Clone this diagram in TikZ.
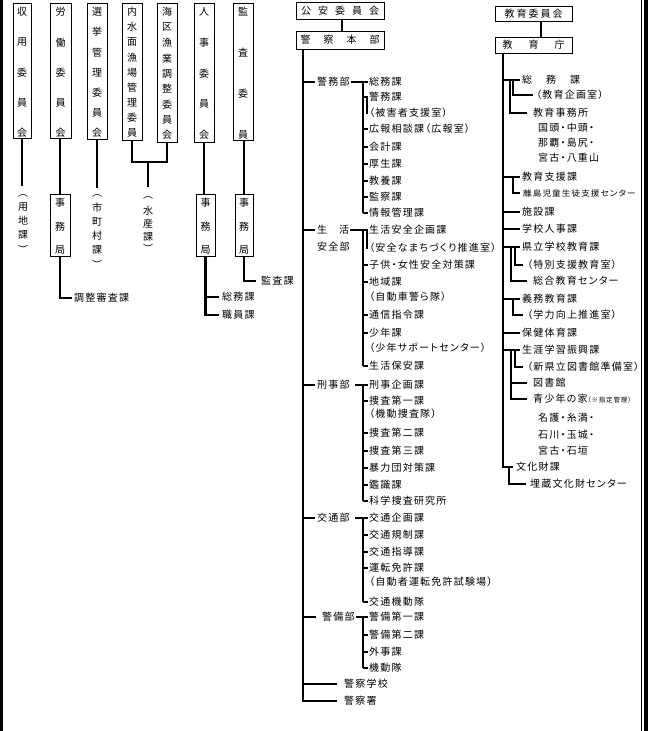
\documentclass[tikz,border=0pt]{standalone}
\usepackage{graphicx}
\usepackage{fontspec}
\newfontfamily\jp{Noto Sans CJK JP}[RawFeature=+palt,LetterSpace=12]
\newfontfamily\jpplain{Noto Sans CJK JP}
\newcommand{\itm}[4]{\node[txt] (#1) at (#2,#3) {#4};}
\begin{document}
\begin{tikzpicture}[x=1pt,y=-1pt,
  box/.style={draw=black, line width=0.9pt, inner sep=0pt},
  bt/.style={font=\jp\fontsize{10}{12}\selectfont},
  txt/.style={inner sep=0pt, anchor=west, font=\jp\fontsize{10}{12}\selectfont},
  vch/.style={inner sep=0pt, font=\jpplain\fontsize{10}{12}\selectfont},
  ln/.style={line width=1.1pt},
  lnt/.style={line width=2pt},
  trunk/.style={line width=2.4pt},
]
\useasboundingbox (0,0) rectangle (651,731);
% frame
\fill (0,0) rectangle (2.5,731);
\draw[line width=1.4pt] (641.5,0) -- (641.5,731);
\fill (644,0) rectangle (648.3,731);

% ================= left committees =================
\node[box, minimum width=18pt, minimum height=135pt] (shuyo) at (22,70.5) {};
\foreach \c [count=\i from 0] in {収,用,委,員,会}
  \node[vch] (shuyo-c\i) at (22,{12+\i*30.25}) {\c};
\coordinate (shuyoend) at (22,186);
\draw[ln] (shuyo.south) -- (shuyoend);
\foreach \c/\yy [count=\i] in {︵/196,用/207,地/221,課/235,︶/249}
  \node[vch] (yochi-\i) at (23,\yy) {\c};

\node[box, minimum width=21pt, minimum height=135pt] (rodo) at (60.5,70.5) {};
\foreach \c [count=\i from 0] in {労,働,委,員,会}
  \node[vch] (rodo-c\i) at (60.5,{12+\i*30.25}) {\c};
\node[box, minimum width=20pt, minimum height=62pt] (rodojimu) at (60,225) {};
\foreach \c [count=\i from 0] in {事,務,局}
  \node[vch] (rodojimu-c\i) at (60,{203+\i*23.5}) {\c};
\draw[ln] (rodo.south -| rodojimu.north) -- (rodojimu.north);
\itm{chosei}{74}{298}{調整審査課}
\draw[ln] (rodojimu.south) |- ([xshift=-2pt]chosei.west);

\node[box, minimum width=20pt, minimum height=136pt] (senkyo) at (97,71) {};
\foreach \c [count=\i from 0] in {選,挙,管,理,委,員,会}
  \node[vch] (senkyo-c\i) at (97,{12+\i*20.2}) {\c};
\coordinate (senkyoend) at (97,188);
\draw[ln] (senkyo.south) -- (senkyoend);
\foreach \c/\yy [count=\i] in {︵/196,市/208,町/222,村/236,課/250,︶/264}
  \node[vch] (shicho-\i) at (97,\yy) {\c};

\node[box, minimum width=20pt, minimum height=137pt] (naisui) at (132,71.5) {};
\foreach \c [count=\i from 0] in {内,水,面,漁,場,管,理,委,員}
  \node[vch] (naisui-c\i) at (132,{12+\i*15.1}) {\c};
\node[box, minimum width=20pt, minimum height=139pt] (kaiku) at (167,72.5) {};
\foreach \c [count=\i from 0] in {海,区,漁,業,調,整,委,員,会}
  \node[vch] (kaiku-c\i) at (167,{12+\i*15.4}) {\c};
\coordinate (mrg) at (148,162);
\coordinate (mrgend) at (148,187);
\draw[ln] (naisui.south) |- (mrg) -| (kaiku.south);
\draw[trunk] (mrg) -- (mrgend);
\foreach \c/\yy [count=\i] in {︵/198,水/211,産/224,課/237,︶/248}
  \node[vch] (suisan-\i) at (148,\yy) {\c};

\node[box, minimum width=20pt, minimum height=139pt] (jinji) at (204,72.5) {};
\foreach \c [count=\i from 0] in {人,事,委,員,会}
  \node[vch] (jinji-c\i) at (204,{12+\i*30.75}) {\c};
\node[box, minimum width=19pt, minimum height=62pt] (jinjijimu) at (205.5,225) {};
\foreach \c [count=\i from 0] in {事,務,局}
  \node[vch] (jinjijimu-c\i) at (205.5,{203+\i*23.5}) {\c};
\draw[trunk] (jinji.south) -- (jinji.south |- jinjijimu.north);
\itm{jsomu}{222}{297}{総務課}
\itm{shokuin}{222}{315}{職員課}
\draw[trunk] (jinjijimu.south) |- ([xshift=-3pt]shokuin.west);
\draw[ln] (jinjijimu.south |- jsomu.west) -- ([xshift=-3pt]jsomu.west);

\node[box, minimum width=20pt, minimum height=137pt] (kansa) at (243,71.5) {};
\foreach \c [count=\i from 0] in {監,査,委,員}
  \node[vch] (kansa-c\i) at (243,{12+\i*41}) {\c};
\node[box, minimum width=18pt, minimum height=62pt] (kansajimu) at (244,225) {};
\foreach \c [count=\i from 0] in {事,務,局}
  \node[vch] (kansajimu-c\i) at (244,{203+\i*23.5}) {\c};
\draw[ln] (kansajimu.north |- kansa.south) -- (kansajimu.north);
\itm{kansaka}{261}{281}{監査課}
\draw[ln] (kansajimu.south) |- ([xshift=-5pt]kansaka.west);

% ================= police =================
\node[box, bt, minimum width=88pt, minimum height=17pt] (koan) at (340,10.5) {公\kern7pt安\kern7pt委\kern7pt員\kern7pt会};
\node[box, bt, minimum width=88pt, minimum height=18pt] (keisatsu) at (340,40) {警\kern13pt察\kern13pt本\kern13pt部};
\coordinate (kx) at (342,0);
\draw[ln] (koan.south -| kx) -- (keisatsu.north -| kx);

\itm{keimu}{317}{82}{警務部}
\itm{k1}{369}{82}{総務課}
\itm{k2}{369}{97}{警務課}
\itm{k3}{369}{113}{（被害者支援室）}
\itm{k4}{369}{129}{広報相談課（広報室）}
\itm{k5}{369}{147}{会計課}
\itm{k6}{369}{164}{厚生課}
\itm{k7}{369}{181}{教養課}
\itm{k8}{369}{197}{監察課}
\itm{k9}{369}{213}{情報管理課}

\itm{seikatsuA}{317}{230}{生\kern12pt活}
\itm{seikatsuB}{317}{247}{安全部}
\itm{s1}{369}{230}{生活安全企画課}
\itm{s2}{369}{248}{（安全なまちづくり推進室）}
\itm{s3}{369}{265}{子供・女性安全対策課}
\itm{s4}{369}{282}{地域課}
\itm{s5}{369}{297}{（自動車警ら隊）}
\itm{s6}{369}{315}{通信指令課}
\itm{s7}{369}{333}{少年課}
\itm{s8}{369}{348}{（少年サポートセンター）}
\itm{s9}{369}{366}{生活保安課}

\itm{keiji}{317}{385}{刑事部}
\itm{j1}{369}{385}{刑事企画課}
\itm{j2}{369}{401}{捜査第一課}
\itm{j3}{369}{414}{（機動捜査隊）}
\itm{j4}{369}{433}{捜査第二課}
\itm{j5}{369}{451}{捜査第三課}
\itm{j6}{369}{468}{暴力団対策課}
\itm{j7}{369}{485}{鑑識課}
\itm{j8}{369}{501}{科学捜査研究所}

\itm{kotsu}{317}{518}{交通部}
\itm{t1}{369}{518}{交通企画課}
\itm{t2}{369}{535}{交通規制課}
\itm{t3}{369}{552}{交通指導課}
\itm{t4}{369}{568}{運転免許課}
\itm{t5}{369}{582}{（自動者運転免許試験場）}
\itm{t6}{369}{602}{交通機動隊}

\itm{keibi}{322}{617}{警備部}
\itm{b1}{369}{617}{警備第一課}
\itm{b2}{369}{635}{警備第二課}
\itm{b3}{369}{652}{外事課}
\itm{b4}{369}{668}{機動隊}

\itm{gakko}{344}{684}{警察学校}
\itm{sho}{344}{701}{警察署}

\coordinate (pt) at (303,0);
\coordinate (sv) at (363,0);
\coordinate (sb) at (367,0);
\draw[trunk] (keisatsu.south -| pt) |- ([xshift=-7pt]sho.west);
\draw[ln] (pt |- gakko.west) -- ([xshift=-7pt]gakko.west);
\foreach \d in {keimu,seikatsuA,keiji,kotsu}
  \draw[ln] (pt |- \d.west) -- ([xshift=-2pt]\d.west);
\draw[ln] (pt |- keibi.west) -- ([xshift=-6pt]keibi.west);
% dept to sub-trunk
\draw[ln] ([xshift=1pt]keimu.east) -- (sv |- keimu.east);
\draw[ln] (seikatsuB.east |- seikatsuA.west) -- (sv |- seikatsuA.west);
\draw[ln] ([xshift=5pt]keiji.east) -- (sv |- keiji.east);
\draw[ln] ([xshift=5pt]kotsu.east) -- (sv |- kotsu.east);
\draw[ln] ([xshift=1pt]keibi.east) -- (sv |- keibi.east);
% sub-trunks
\draw[lnt] (sv |- k1.west) -- (sv |- k9.west);
\draw[lnt] (sv |- s1.west) -- (sv |- s9.west);
\draw[lnt] (sv |- j1.west) -- (sv |- j8.west);
\draw[lnt] (sv |- t1.west) -- (sv |- t6.west);
\draw[lnt] (sv |- b1.west) -- (sv |- b4.west);
% ticks
\foreach \n in {k1,k4,k5,k7,s1,s4,s6,s7,s9,j1,j6,j7,t1,t2,t6,b1,b2}
  \draw[ln] (sv |- \n.west) -- ([xshift=-1pt]\n.west);
\foreach \n in {k2,k6,k8,k9,s3,j2,j4,j5,j8,t3,t4,b3,b4}
  \draw[lnt] (sv |- \n.west) -- ([xshift=-1pt]\n.west);
% sub brackets
\draw[ln] (sb |- k2.west) |- ([xshift=-1pt]k3.west);
\draw[lnt] (sb |- s1.west) |- ([xshift=-1pt]s2.west);

% ================= education =================
\node[box, bt, minimum width=77pt, minimum height=15pt] (kyoi) at (533.5,13.5) {教\kern2pt育\kern2pt委\kern2pt員\kern2pt会};
\node[box, bt, minimum width=77pt, minimum height=16pt] (kyocho) at (533.5,45) {教\kern16pt育\kern16pt庁};
\coordinate (ex) at (541,0);
\draw[ln] (kyoi.south -| ex) -- (kyocho.north -| ex);

\itm{e1}{522}{80}{総\kern14pt務\kern14pt課}
\itm{e2}{536}{95}{（教育企画室）}
\itm{e3}{533}{113}{教育事務所}
\itm{e4}{538}{128}{国頭・中頭・}
\itm{e5}{538}{143}{那覇・島尻・}
\itm{e6}{538}{158}{宮古・八重山}
\itm{e7}{522}{177}{教育支援課}
\node[txt, font=\jp\fontsize{8}{9}\selectfont] (e8) at (523,193) {\scalebox{1.08}[1]{離島児童生徒支援センター}};
\itm{e9}{522}{212}{施設課}
\itm{e10}{522}{229}{学校人事課}
\itm{e11}{522}{247}{県立学校教育課}
\itm{e12}{527}{265}{（特別支援教育室）}
\itm{e13}{533}{281}{総合教育センター}
\itm{e14}{522}{299}{義務教育課}
\itm{e15}{527}{315}{（学力向上推進室）}
\itm{e16}{522}{333}{保健体育課}
\itm{e17}{522}{350}{生涯学習振興課}
\itm{e18}{527}{367}{（新県立図書館準備室）}
\itm{e19}{533}{383}{図書館}
\itm{e20}{533}{399}{青少年の家{\fontsize{6.5}{7}\selectfont （※指定管理）}}
\itm{e21}{538}{418}{名護・糸満・}
\itm{e22}{538}{435}{石川・玉城・}
\itm{e23}{538}{451}{宮古・石垣}
\itm{bunka}{516}{467}{文化財課}
\itm{e24}{530}{484}{埋蔵文化財センター}

\coordinate (et) at (503,0);
\draw[trunk] (kyocho.south -| et) |- ([xshift=-3pt]bunka.west);
\foreach \n in {e1,e7,e10,e11,e14,e17}
  \draw[ln] (et |- \n.west) -- ([xshift=-2pt]\n.west);
\foreach \n in {e9,e16}
  \draw[lnt] (et |- \n.west) -- ([xshift=-2pt]\n.west);
\coordinate (x509) at (509,0);
\coordinate (x510) at (510,0);
\coordinate (x511) at (511,0);
\coordinate (x513) at (513,0);
\coordinate (x515) at (515,0);
\draw[lnt] (x513 |- e1.west) |- ([xshift=-3pt]e2.west);
\draw[ln] (x510 |- e1.west) |- ([xshift=-6pt]e3.west);
\draw[lnt] (x513 |- e7.west) |- ([xshift=-3pt]e8.west);
\draw[lnt] (x515 |- e11.west) |- ([xshift=-4pt]e12.west);
\draw[ln] (x511 |- e11.west) |- ([xshift=-6pt]e13.west);
\draw[lnt] (x513 |- e14.west) |- ([xshift=-4pt]e15.west);
\draw[ln] (x515 |- e17.west) |- ([xshift=-4pt]e18.west);
\draw[ln] (x511 |- e17.west) |- ([xshift=-6pt]e20.west);
\draw[ln] (x511 |- e19.west) -- ([xshift=-6pt]e19.west);
\draw[ln] (x509 |- bunka.west) |- ([xshift=-4pt]e24.west);
\end{tikzpicture}
\end{document}
